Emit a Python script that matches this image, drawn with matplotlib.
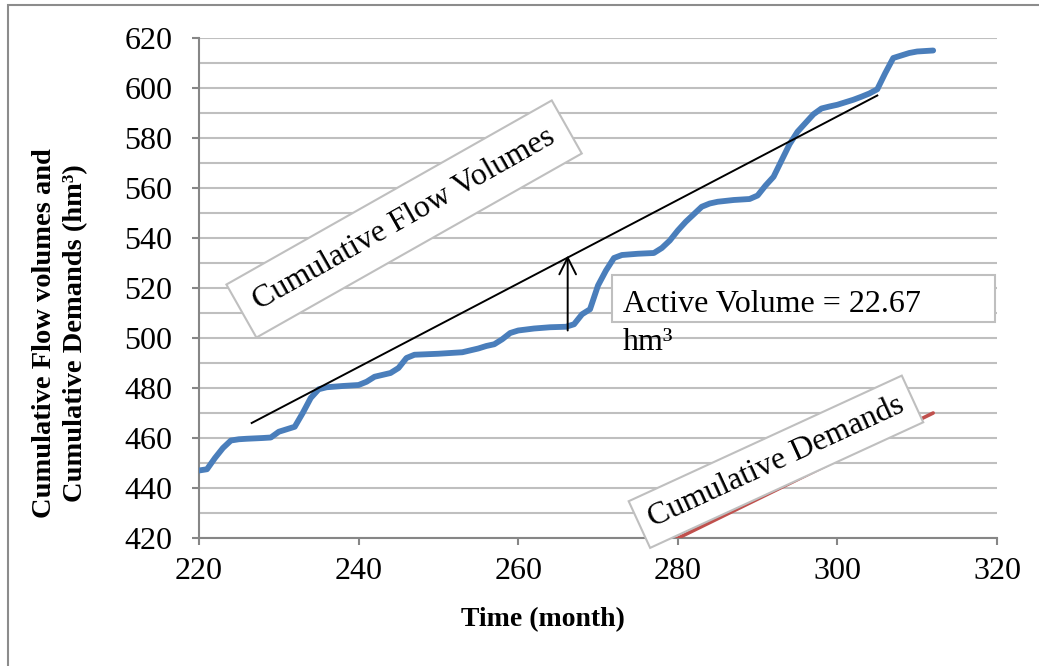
import matplotlib
matplotlib.use('Agg')
import matplotlib.pyplot as plt
from matplotlib.patches import Rectangle
from matplotlib.ticker import MultipleLocator

plt.rcParams['font.family'] = ['Liberation Serif', 'DejaVu Serif']

# cumulative flow volumes (hm3)
months = [220, 221, 222, 223, 224, 225, 226, 228, 229, 230, 231, 232, 233, 234,
          235, 236, 238, 240, 241, 242, 244, 245, 246, 247, 250, 253, 255, 256,
          257, 258, 259, 260, 262, 264, 266, 267, 268, 269, 270, 271, 272, 273,
          275, 277, 278, 279, 280, 281, 282, 283, 284, 285, 287, 289, 290, 291,
          292, 293, 294, 295, 296, 297, 298, 299, 300, 301, 302, 303, 304, 305,
          306, 307, 308, 309, 310, 312]
flow = [447, 447.5, 452, 456, 459, 459.5, 459.7, 460, 460.2, 462.5, 463.5, 464.5,
        470, 476, 479.5, 480.3, 480.8, 481.2, 482.5, 484.5, 486, 488, 492, 493.3,
        493.7, 494.3, 495.8, 496.8, 497.5, 499.5, 502, 503, 503.8, 504.3, 504.5,
        505.5, 509.5, 511.5, 521, 527, 532, 533.2, 533.7, 534, 536, 539, 543,
        546.5, 549.5, 552.5, 553.8, 554.5, 555.2, 555.6, 557, 561, 564.5, 571,
        577.5, 582.5, 586, 589.5, 591.8, 592.6, 593.3, 594.3, 595.3, 596.5,
        597.8, 599.5, 606, 612, 613, 614, 614.6, 615]

# cumulative demands (only the top end is inside the plotted range)
demand_months = [220, 312]
demand = [326, 470]

# tangent line and active volume arrow
tangent_x = [226.6, 305]
tangent_y = [466, 597]
arrow_x = 266.2
arrow_low, arrow_high = 503, 533
active_volume = 22.67

fig = plt.figure(figsize=(10.39, 6.66), dpi=100)
ax = fig.add_axes([199 / 1039, 1 - 538 / 666, 798 / 1039, 500 / 666])

# outer chart frame (only left and top edges fall inside the picture)
fig.patches.append(Rectangle((8 / 1039, -0.05), 1.1, 1.05 - 5 / 666,
                             transform=fig.transFigure, fill=False,
                             edgecolor='#8c8c8c', lw=1.5))

ax.plot(demand_months, demand, color='#c0504d', lw=2.6, solid_capstyle='round',
        zorder=3)
ax.plot(months, flow, color='#4a7ebb', lw=4.2, solid_capstyle='round',
        solid_joinstyle='round', zorder=4)
ax.plot(tangent_x, tangent_y, color='black', lw=1.4, zorder=5)
ax.annotate('', xy=(arrow_x, arrow_high), xytext=(arrow_x, arrow_low),
            arrowprops=dict(arrowstyle='->', color='black', lw=1.4,
                            mutation_scale=30, shrinkA=0, shrinkB=0), zorder=5)

ax.set_xlim(220, 320)
ax.set_ylim(420, 620)
ax.xaxis.set_major_locator(MultipleLocator(20))
ax.yaxis.set_major_locator(MultipleLocator(20))
ax.yaxis.set_minor_locator(MultipleLocator(10))
ax.yaxis.grid(True, which='both', color='#bfbfbf', lw=1.5)
ax.set_axisbelow(True)

for side in ['top', 'right']:
    ax.spines[side].set_visible(False)
for side in ['left', 'bottom']:
    ax.spines[side].set_color('#868686')
    ax.spines[side].set_linewidth(1.5)
ax.tick_params(which='major', direction='out', length=5, width=1.5,
               color='#868686', labelsize=23)
ax.tick_params(axis='y', which='major', pad=14)
ax.tick_params(axis='x', which='major', pad=9)
ax.tick_params(which='minor', length=0)

# labels placed where the original has them
fig.text(543 / 1039, 1 - 620 / 666, 'Time (month)', fontsize=20,
         fontweight='bold', ha='center', va='center')
fig.text(60 / 1039, 1 - 333 / 666,
         'Cumulative Flow volumes and\nCumulative Demands (hm³)',
         fontsize=20.5, fontweight='bold', rotation=90, ha='center',
         va='center', multialignment='center', linespacing=1.3)

box = dict(boxstyle='square,pad=0.5', facecolor='white', edgecolor='#bfbfbf',
           lw=1.5)
ax.text(245.7, 547.6, 'Cumulative Flow Volumes', fontsize=23, rotation=29.5,
        rotation_mode='anchor', ha='center', va='center', bbox=box, zorder=6)
box2 = dict(boxstyle='square,pad=0.35', facecolor='white', edgecolor='#bfbfbf',
            lw=1.5)
ax.text(292.3, 450.5, 'Cumulative Demands', fontsize=23, rotation=24.7,
        rotation_mode='anchor', ha='center', va='center', bbox=box2, zorder=6)

ax.add_patch(Rectangle((271.7, 506.4), 48, 18.8, facecolor='white',
                       edgecolor='#bfbfbf', lw=1.5, zorder=6, clip_on=False))
ax.text(273.1, 510.4, 'Active Volume = %.2f' % active_volume, fontsize=23,
        va='baseline', ha='left', zorder=7)
ax.text(273.1, 495.2, 'hm³', fontsize=23, va='baseline', ha='left', zorder=7)

fig.savefig('out.png', dpi=100)
